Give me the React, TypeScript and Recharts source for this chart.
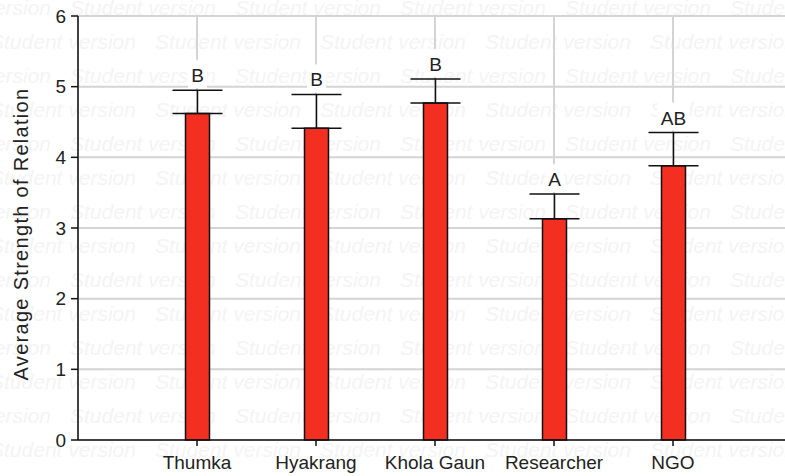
import React from "react";
import {
  Bar,
  BarChart,
  CartesianGrid,
  ErrorBar,
  LabelList,
  XAxis,
  YAxis,
} from "recharts";

const categories = ["Thumka", "Hyakrang", "Khola Gaun", "Researcher", "NGO"];
const means = [4.62, 4.41, 4.77, 3.13, 3.88];
const errors = [0.33, 0.48, 0.34, 0.35, 0.47];
const groups = ["B", "B", "B", "A", "AB"];
const yTicks = [0, 1, 2, 3, 4, 5, 6];
const xTicks = [1, 2, 3, 4, 5];

const data = categories.map((name, i) => ({
  pos: i + 1,
  name,
  mean: means[i],
  err: [0, errors[i]],
  group: groups[i],
}));

const FONT = "'Liberation Sans', Arial, sans-serif";
const W = 785;
const H = 476;

/** Faint repeated "Student version" watermark behind the plot. */
function Watermark() {
  const rows = [];
  for (let r = 0; r < 15; r++) {
    const baseline = 14.7 + 34 * r;
    const start = (r % 2 === 0 ? 70 : 155) - 165;
    for (let c = 0; c < 6; c++) {
      rows.push(
        <text key={`${r}-${c}`} x={start + c * 165} y={baseline}>
          Student version
        </text>
      );
    }
  }
  return (
    <svg
      width={W}
      height={H}
      style={{ position: "absolute", left: 0, top: 0 }}
      fontFamily={FONT}
      fontStyle="italic"
      fontSize={21}
      fill="#f4f4f4"
    >
      {rows}
    </svg>
  );
}

function LetterLabel(props: any) {
  const x = Number(props.x);
  const y = Number(props.y);
  const width = Number(props.width);
  const height = Number(props.height);
  const i = props.index;
  const pxPerUnit = height / means[i];
  const capY = y - errors[i] * pxPerUnit;
  const cx = x + width / 2;
  const w = String(props.value).length * 13 + 6;
  return (
    <g>
      <rect x={cx - w / 2} y={capY - 30} width={w} height={28} fill="#fff" />
      <text
        x={cx}
        y={capY - 8}
        textAnchor="middle"
        fontFamily={FONT}
        fontSize={19}
        fill="#222"
      >
        {props.value}
      </text>
    </g>
  );
}

function YLabel({ viewBox }: any) {
  const cy = viewBox.y + viewBox.height / 2 + 6;
  return (
    <text
      x={0}
      y={0}
      transform={`translate(${viewBox.x + 28}, ${cy}) rotate(-90)`}
      textAnchor="middle"
      fontFamily={FONT}
      fontSize={20}
      letterSpacing={1.3}
      fill="#222"
    >
      Average Strength of Relation
    </text>
  );
}

export default function App() {
  return (
    <div
      style={{
        position: "absolute",
        left: 0,
        top: 0,
        width: W,
        height: H,
        overflow: "hidden",
        background: "#fff",
      }}
    >
      <Watermark />
      <div style={{ position: "absolute", left: 0, top: 0 }}>
        <BarChart
          width={792}
          height={H}
          data={data}
          margin={{ top: 16, right: 0, bottom: 0, left: 0 }}
        >
          <CartesianGrid stroke="#d4d4d4" strokeWidth={2} />
          <XAxis
            dataKey="pos"
            type="number"
            domain={[0, 6]}
            ticks={xTicks}
            allowDataOverflow
            height={36}
            tickSize={6}
            tickMargin={10}
            tickFormatter={(v: number) => categories[v - 1] ?? ""}
            stroke="#111"
            strokeWidth={1.5}
            tick={{ fill: "#222", fontSize: 19, fontFamily: FONT }}
            interval={0}
          />
          <YAxis
            domain={[0, 6]}
            ticks={yTicks}
            width={78}
            tickSize={7}
            tickMargin={5}
            stroke="#111"
            strokeWidth={1.5}
            tick={{ fill: "#222", fontSize: 19, fontFamily: FONT }}
            label={<YLabel />}
          />
          <Bar
            dataKey="mean"
            fill="#f22f20"
            stroke="#111"
            strokeWidth={1.5}
            barSize={24}
            isAnimationActive={false}
          >
            <ErrorBar
              dataKey="err"
              direction="y"
              width={25}
              stroke="#111"
              strokeWidth={1.5}
              isAnimationActive={false}
            />
            <LabelList dataKey="group" content={<LetterLabel />} />
          </Bar>
        </BarChart>
      </div>
    </div>
  );
}
